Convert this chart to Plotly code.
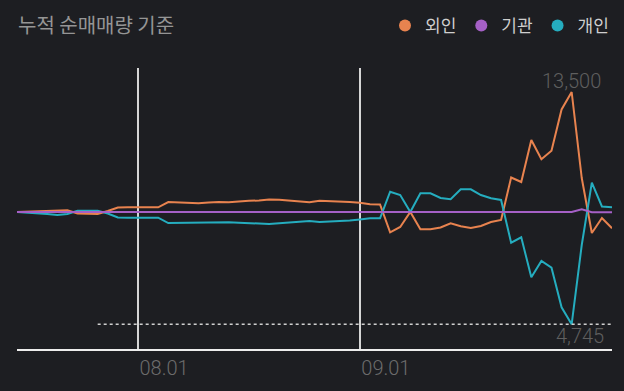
import plotly.graph_objects as go
import numpy as np

# ---- data -------------------------------------------------------------
series_names = ["외인", "기관", "개인"]
series_colors = ["#e8834f", "#a560c6", "#25adbf"]

foreign = [0, 22, 56, 112, 169, 191, -169, -169, -225, 112,
           506, 529, 529, 529, 529, 1125, 1091, 1046, 979, 1069,
           1125, 1091, 1204, 1260, 1294, 1406, 1373, 1294, 1181, 1091,
           1260, 1238, 1181, 1125, 1035, 866, 844, -2284, -1688, 0,
           -1946, -1946, -1744, -1271, -1609, -1800, -1575, -1125, -900, 3881,
           3375, 8100, 5929, 6896, 11531, 13500, 3825, -2363, -675, -1834]

institution = [0, 0, 0, 0, 0, 0, 0, 0, 0, 0,
               0, 0, 0, 0, 0, 0, 0, 0, 0, 0,
               0, 0, 0, 0, 0, 0, 0, 0, 0, 0,
               0, 0, 0, 0, 0, 0, 0, 0, 0, 0,
               0, 0, 0, 0, 0, 0, 0, 10, 30, 20,
               -20, 60, 20, 0, -10, 0, 300, -20, -20, -20]

individual = [0, -56, -135, -225, -338, -225, 146, 112, 146, -169,
              -619, -641, -641, -641, -641, -1238, -1215, -1181, -1159, -1125,
              -1125, -1159, -1215, -1215, -1294, -1350, -1271, -1181, -1091, -1013,
              -1125, -1069, -1046, -956, -844, -709, -709, 2284, 1913, 0,
              2104, 2104, 1575, 1429, 2554, 2554, 1913, 1541, 1350, -3454,
              -2846, -7346, -5513, -6266, -10721, -12634, -3713, 3296, 619, 529]

tick_positions = [12, 34]
tick_labels = ["08.01", "09.01"]
extreme_labels = ["13,500", "4,745"]
dotted_start = 8
title_text = "누적 순매매량 기준"

# ---- figure -----------------------------------------------------------
idx = list(range(len(foreign)))
fig = go.Figure()

all_series = [foreign, institution, individual]
draw_order = [0, 2, 1]
for k in draw_order:
    fig.add_trace(go.Scatter(
        x=idx, y=all_series[k], mode="lines",
        line=dict(color=series_colors[k], width=2),
        showlegend=False, hoverinfo="skip"))

# legend entries (dots)
for name, col in zip(series_names, series_colors):
    fig.add_trace(go.Scatter(
        x=[None], y=[None], mode="markers", name=name,
        marker=dict(color=col, size=12, symbol="circle")))

imax = int(np.argmax(foreign))
imin = int(np.argmin(individual))
vmax = foreign[imax]
vmin = individual[imin]

fig.add_shape(type="line", xref="x", yref="y",
              x0=dotted_start, x1=idx[-1], y0=vmin, y1=vmin,
              line=dict(color="#cfcfcf", width=1.5, dash="dot"))

num_font = dict(family="Roboto", size=20, color="#5f5f5f", weight=300)
fig.add_annotation(x=imax, y=vmax, text=extreme_labels[0], showarrow=False,
                   xanchor="center", yanchor="bottom", yshift=-3, font=num_font)
fig.add_annotation(x=idx[-1], y=vmin, text=extreme_labels[1], showarrow=False,
                   xanchor="right", yanchor="top", xshift=-6, yshift=2, font=num_font)

bg = "#1d1e22"
fig.update_layout(
    width=624, height=391,
    paper_bgcolor=bg, plot_bgcolor=bg,
    margin=dict(l=17, r=12, t=68, b=42),
    title=dict(text=title_text, x=18 / 624, xanchor="left", xref="container",
               y=1 - 26 / 391, yanchor="middle", yref="container",
               font=dict(family="Noto Sans CJK KR", size=20, color="#959595")),
    legend=dict(orientation="h", xref="container", yref="container",
                x=1 - 10 / 624, xanchor="right", y=1 - 26 / 391, yanchor="middle",
                font=dict(family="Noto Sans CJK KR", size=17, color="#cfcfcf"),
                bgcolor="rgba(0,0,0,0)", itemclick=False, itemdoubleclick=False),
    xaxis=dict(range=[0, idx[-1]], tickmode="array", tickvals=tick_positions,
               ticktext=tick_labels, showgrid=True, gridcolor="#d6d6d6", gridwidth=2,
               showline=True, linecolor="#ededed", linewidth=2, zeroline=False,
               ticks="", ticklabelshift=26,
               tickfont=dict(family="Roboto", size=20, color="#6c6c6c", weight=300)),
    yaxis=dict(range=[-15412, 16200], showgrid=False, zeroline=False,
               showticklabels=False, showline=False),
    hovermode=False,
)

fig.write_html("out.html", config={"displayModeBar": False},
               post_script="document.body.style.margin='0';document.body.style.background='%s';" % bg)
